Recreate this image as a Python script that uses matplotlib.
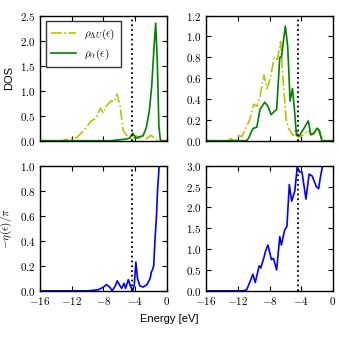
import matplotlib
matplotlib.use("Agg")
import matplotlib.pyplot as plt
from matplotlib.ticker import FuncFormatter, MultipleLocator

plt.rcParams['mathtext.fontset'] = 'cm'
plt.rcParams['font.family'] = ['Liberation Sans', 'DejaVu Sans']

e_fermi = -4.4

# oben links: rho_LambdaU und rho_alpha
e_lu1 = [-16, -13.2, -12.8, -12.0, -11.4, -10.8, -10.0, -9.5, -8.9, -8.4, -8.0,
         -7.6, -7.0, -6.6, -6.3, -5.9, -5.5, -5.0, -4.6, -4.2, -3.9, -3.5, -3.1,
         -2.6, -2.0, -1.6, -1.2, -0.9, 0]
rho_lu1 = [0, 0, 0.02, 0.04, 0.06, 0.15, 0.3, 0.4, 0.45, 0.65, 0.55,
           0.7, 0.8, 0.78, 0.93, 0.7, 0.2, 0.1, 0.05, 0.03, 0.1, 0.05, 0.12,
           0.04, 0.11, 0.06, 0.01, 0, 0]
e_a1 = [-16, -7.0, -6.0, -5.2, -4.7, -4.3, -3.9, -3.4, -3.0, -2.6, -2.2, -1.9,
        -1.6, -1.4, -1.2, -1.0, -0.8, 0]
rho_a1 = [0, 0, 0.02, 0.03, 0.05, 0.15, 0.05, 0.08, 0.1, 0.25, 0.6, 1.1,
          1.9, 2.35, 1.6, 0.3, 0, 0]

# oben rechts
e_lu2 = [-16, -13.2, -12.9, -12.3, -11.9, -11.5, -11.1, -10.5, -10.0, -9.6, -9.2,
         -8.7, -8.3, -7.9, -7.4, -7.0, -6.6, -6.3, -5.9, -5.6, -5.3, -5.0, -4.7,
         -4.3, -3.9, -3.5, -3.1, -2.7, -2.3, -2.0, -1.6, -1.0, 0]
rho_lu2 = [0, 0, 0.02, 0.0, 0.05, 0.04, 0.1, 0.2, 0.35, 0.33, 0.42,
           0.63, 0.5, 0.6, 0.8, 0.78, 0.95, 0.6, 0.2, 0.12, 0.08, 0.05, 0.1,
           0.03, 0.05, 0.07, 0.1, 0.05, 0.08, 0.13, 0.05, 0, 0]
e_a2 = [-16, -10.9, -10.6, -10.2, -10.0, -9.6, -9.2, -8.6, -8.2, -7.8, -7.4,
        -7.1, -6.7, -6.5, -6.0, -5.7, -5.4, -5.1, -4.85, -4.6, -4.2, -3.8,
        -3.1, -2.8, -2.4, -2.0, -1.7, -1.4, -1.0, 0]
rho_a2 = [0, 0, 0.03, 0.1, 0.12, 0.13, 0.3, 0.37, 0.33, 0.25, 0.28,
          0.3, 0.8, 0.8, 1.1, 0.9, 0.38, 0.5, 0.3, 0.05, 0.05, 0.1,
          0.19, 0.06, 0.07, 0.12, 0.1, 0.0, 0, 0]

# unten links: -eta/pi
e_eta1 = [-16, -10.0, -9.2, -8.6, -8.0, -7.6, -7.2, -6.9, -6.5, -6.25, -5.9,
          -5.7, -5.4, -5.2, -4.85, -4.6, -4.3, -4.1, -3.9, -3.7, -3.4, -3.0,
          -2.5, -2.1, -1.95, -1.8, -1.65, -1.5, -1.3, -1.17, -0.96, -0.8]
eta1 = [0, 0, 0.005, 0.01, 0.03, 0.05, 0.03, 0.0, 0.04, 0.08, 0.04,
        0.02, 0.06, 0.02, 0.09, 0.04, 0.0, 0.05, 0.23, 0.1, 0.04, 0.03,
        0.05, 0.1, 0.15, 0.17, 0.2, 0.4, 0.6, 0.8, 1.0, 1.2]

# unten rechts
e_eta2 = [-16, -11.5, -10.9, -10.5, -10.1, -9.8, -9.3, -9.1, -8.7, -8.5, -8.2,
          -7.76, -7.5, -7.1, -6.7, -6.5, -6.1, -5.8, -5.5, -5.2, -4.8, -4.5,
          -4.2, -3.9, -3.4, -3.0, -2.6, -2.1, -1.8, -1.6, -1.3, -1.0]
eta2 = [0, 0, 0.02, 0.2, 0.4, 0.2, 0.6, 0.55, 0.8, 0.95, 1.1,
        0.75, 0.78, 0.5, 1.3, 1.1, 1.45, 1.55, 2.55, 2.15, 2.4, 2.98,
        2.85, 2.85, 2.2, 2.8, 2.75, 2.5, 2.45, 2.7, 3.0, 3.2]


def xfmt(v, pos):
    return r'$%d$' % int(round(v))


def yfmt(v, pos):
    return r'$%.1f$' % v


fig, axes = plt.subplots(2, 2, sharex=True, figsize=(3.39, 3.39), dpi=100)
fig.subplots_adjust(left=0.118, right=0.982, top=0.954, bottom=0.142,
                    wspace=0.31, hspace=0.2)
ax1, ax2 = axes[0]
ax3, ax4 = axes[1]

lw = 1.2
ax1.plot(e_lu1, rho_lu1, color='#bfbf00', linestyle='-.', linewidth=lw,
         label=r'$\rho_{\Lambda U}(\epsilon)$')
ax1.plot(e_a1, rho_a1, color='#008000', linewidth=lw,
         label=r'$\rho_{\alpha}(\epsilon)$')
ax1.set_ylim(0, 2.5)
ax1.yaxis.set_major_locator(MultipleLocator(0.5))
ax1.set_ylabel('DOS', fontsize=8)
leg = ax1.legend(loc='upper left', fontsize=8, fancybox=False,
                 handlelength=2.2, borderpad=0.5, labelspacing=0.4)
leg.get_frame().set_edgecolor('black')
leg.get_frame().set_linewidth(1.0)

ax2.plot(e_lu2, rho_lu2, color='#bfbf00', linestyle='-.', linewidth=lw)
ax2.plot(e_a2, rho_a2, color='#008000', linewidth=lw)
ax2.set_ylim(0, 1.2)
ax2.yaxis.set_major_locator(MultipleLocator(0.2))

ax3.plot(e_eta1, eta1, color='#0000ff', linewidth=lw)
ax3.set_ylim(0, 1.0)
ax3.yaxis.set_major_locator(MultipleLocator(0.2))
ax3.set_ylabel(r'$-\eta(\epsilon)/\pi$', fontsize=8)

ax4.plot(e_eta2, eta2, color='#0000ff', linewidth=lw)
ax4.set_ylim(0, 3.0)
ax4.yaxis.set_major_locator(MultipleLocator(0.5))

for ax in axes.flat:
    ax.axvline(e_fermi, color='black', linestyle=':', linewidth=1.3)
    ax.set_xlim(-16, 0)
    ax.xaxis.set_major_locator(MultipleLocator(4))
    ax.xaxis.set_major_formatter(FuncFormatter(xfmt))
    ax.yaxis.set_major_formatter(FuncFormatter(yfmt))
    ax.tick_params(direction='in', top=True, right=True, length=3.5,
                   width=0.8, labelsize=8, pad=3)
    for sp in ax.spines.values():
        sp.set_linewidth(1.0)

fig.text(0.5, 0.05, 'Energy [eV]', ha='center', fontsize=8)

plt.savefig('out.png', dpi=100)
